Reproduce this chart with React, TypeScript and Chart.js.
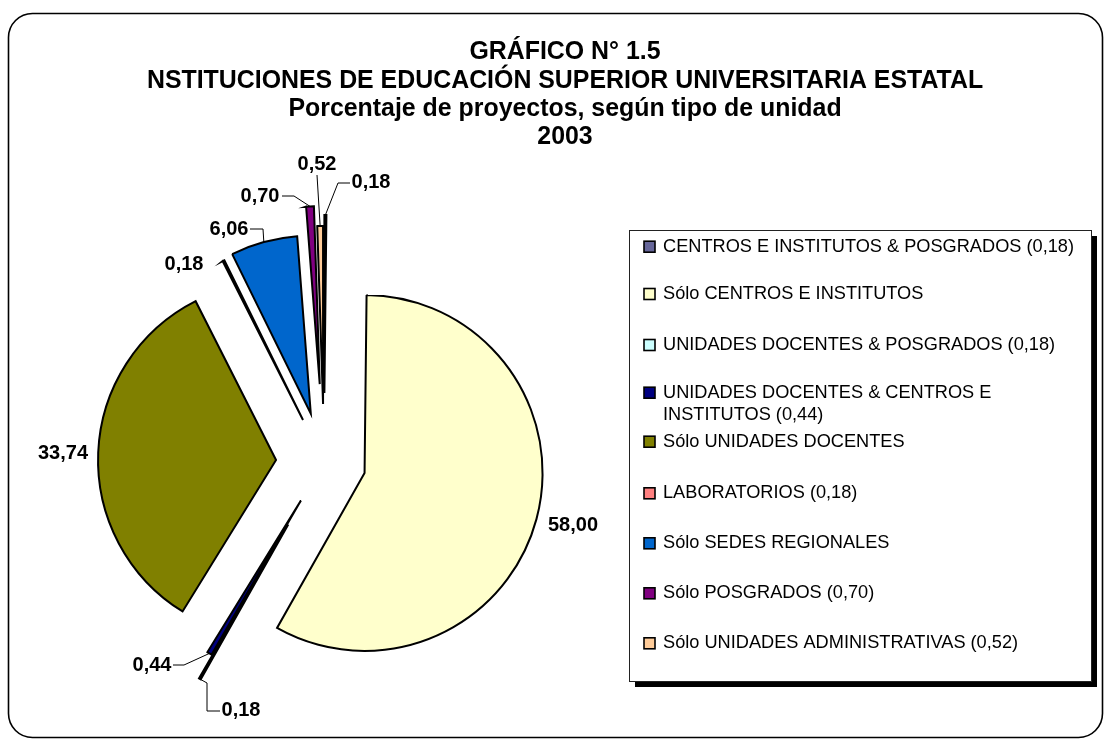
import React, { useEffect, useRef } from 'react';
import { Chart, registerables } from 'chart.js';

Chart.register(...registerables);

// ---- Data ----
const CATEGORIES = [
  'CENTROS E INSTITUTOS & POSGRADOS (0,18)',
  'Sólo CENTROS E INSTITUTOS',
  'UNIDADES DOCENTES & POSGRADOS (0,18)',
  'UNIDADES DOCENTES & CENTROS E INSTITUTOS (0,44)',
  'Sólo UNIDADES DOCENTES',
  'LABORATORIOS (0,18)',
  'Sólo SEDES REGIONALES',
  'Sólo POSGRADOS (0,70)',
  'Sólo UNIDADES ADMINISTRATIVAS (0,52)',
];
const PERCENTAGES = [0.18, 58.0, 0.18, 0.44, 33.74, 0.18, 6.06, 0.7, 0.52];
const TITLE_LINES = [
  'GRÁFICO N° 1.5',
  'NSTITUCIONES DE EDUCACIÓN SUPERIOR UNIVERSITARIA ESTATAL',
  'Porcentaje de proyectos, según tipo de unidad',
  '2003',
];

// ---- Styles ----
const COLORS = ['#666699', '#FFFFCC', '#CCFFFF', '#000080', '#808000', '#FF8080', '#0066CC', '#800080', '#FFCC99'];
const EXPLODE = [69, 42, 72, 45, 48, 47, 50, 78, 58];
const LABEL_POS: number[][] = [
  [371, 182], [573, 525], [241, 710], [152, 665], [63, 453], [184, 264], [229, 229], [260, 196], [317, 164],
];
const LEADERS: (number[][] | null)[] = [
  [[350, 183], [338, 183]],
  null,
  [[220, 711], [207, 711], [207, 683]],
  [[173, 665], [184, 665]],
  null,
  null,
  [[250, 229], [263, 229]],
  [[282, 196], [294, 196]],
  [[317, 175]],
];
const LEGEND_BOX = { x: 629, y: 230, w: 462, h: 451, shadow: 6 };
const LEGEND_ROWS = [246.7, 294, 345, 392.7, 441.7, 493.3, 543.3, 593.3, 643.3];
const FONT = '"Liberation Sans", Arial, Helvetica, sans-serif';

function fmt(v: number) {
  return v.toFixed(2).replace('.', ',');
}

function wrap(ctx: CanvasRenderingContext2D, text: string, maxW: number): string[] {
  const words = text.split(' ');
  const lines: string[] = [];
  let cur = '';
  for (const w of words) {
    const t = cur ? cur + ' ' + w : w;
    if (ctx.measureText(t).width > maxW && cur) {
      lines.push(cur);
      cur = w;
    } else cur = t;
  }
  if (cur) lines.push(cur);
  return lines;
}

const explodePlugin = {
  id: 'explodeSlices',
  afterDatasetsUpdate(chart: any) {
    const meta = chart.getDatasetMeta(0);
    meta.data.forEach((arc: any, i: number) => {
      const mid = (arc.startAngle + arc.endAngle) / 2;
      const d = EXPLODE[i] || 0;
      arc.x += d * Math.cos(mid);
      arc.y += d * Math.sin(mid);
    });
  },
};

const decorPlugin = {
  id: 'decor',
  beforeDraw(chart: any) {
    const ctx: CanvasRenderingContext2D = chart.ctx;
    ctx.save();
    ctx.fillStyle = '#fff';
    ctx.fillRect(0, 0, chart.width, chart.height);
    const x = 8.5, y = 13.5, w = 1094, h = 724, r = 24;
    ctx.beginPath();
    ctx.moveTo(x + r, y);
    ctx.lineTo(x + w - r, y);
    ctx.arcTo(x + w, y, x + w, y + r, r);
    ctx.lineTo(x + w, y + h - r);
    ctx.arcTo(x + w, y + h, x + w - r, y + h, r);
    ctx.lineTo(x + r, y + h);
    ctx.arcTo(x, y + h, x, y + h - r, r);
    ctx.lineTo(x, y + r);
    ctx.arcTo(x, y, x + r, y, r);
    ctx.closePath();
    ctx.strokeStyle = '#000';
    ctx.lineWidth = 1.6;
    ctx.stroke();
    ctx.restore();
  },
  afterDraw(chart: any) {
    const ctx: CanvasRenderingContext2D = chart.ctx;
    ctx.save();
    ctx.fillStyle = '#000';
    ctx.textAlign = 'center';
    ctx.textBaseline = 'middle';
    ctx.font = `bold 24.9px ${FONT}`;
    const titleY = [52, 81, 109.5, 137.5];
    TITLE_LINES.forEach((t, i) => ctx.fillText(t, 565, titleY[i]));

    const meta = chart.getDatasetMeta(0);
    const vals = chart.data.datasets[0].data as number[];
    ctx.font = `bold 20px ${FONT}`;
    meta.data.forEach((arc: any, i: number) => {
      const mid = (arc.startAngle + arc.endAngle) / 2;
      const px = arc.x + arc.outerRadius * Math.cos(mid);
      const py = arc.y + arc.outerRadius * Math.sin(mid);
      const lead = LEADERS[i];
      if (lead) {
        ctx.beginPath();
        ctx.moveTo(lead[0][0], lead[0][1]);
        for (let k = 1; k < lead.length; k++) ctx.lineTo(lead[k][0], lead[k][1]);
        ctx.lineTo(px, py);
        ctx.strokeStyle = '#000';
        ctx.lineWidth = 1;
        ctx.stroke();
      }
      const [lx, ly] = LABEL_POS[i];
      ctx.fillStyle = '#000';
      ctx.fillText(fmt(vals[i]), lx, ly);
    });

    const b = LEGEND_BOX;
    ctx.fillStyle = '#000';
    ctx.fillRect(b.x + b.shadow, b.y + b.shadow, b.w, b.h);
    ctx.fillStyle = '#fff';
    ctx.fillRect(b.x, b.y, b.w, b.h);
    ctx.strokeStyle = '#222';
    ctx.lineWidth = 1;
    ctx.strokeRect(b.x + 0.5, b.y + 0.5, b.w, b.h);
    ctx.font = `18.2px ${FONT}`;
    ctx.textAlign = 'left';
    const labels = chart.data.labels as string[];
    const colors = chart.data.datasets[0].backgroundColor as string[];
    labels.forEach((lab, i) => {
      const yc = LEGEND_ROWS[i];
      ctx.fillStyle = colors[i];
      ctx.fillRect(644, yc - 5.5, 11, 11);
      ctx.strokeStyle = '#000';
      ctx.lineWidth = 1.6;
      ctx.strokeRect(644, yc - 5.5, 11, 11);
      ctx.fillStyle = '#000';
      const lines = wrap(ctx, lab, 420);
      lines.forEach((ln, k) => ctx.fillText(ln, 663, yc + k * 22.3));
    });
    ctx.restore();
  },
};

export default function App() {
  const ref = useRef<HTMLCanvasElement | null>(null);
  useEffect(() => {
    if (!ref.current) return;
    const chart = new Chart(ref.current, {
      type: 'pie',
      data: {
        labels: CATEGORIES,
        datasets: [
          {
            data: PERCENTAGES,
            backgroundColor: COLORS,
            borderColor: '#000',
            borderWidth: 2,
            borderJoinStyle: 'miter',
          } as any,
        ],
      },
      options: {
        responsive: false,
        maintainAspectRatio: false,
        devicePixelRatio: 1,
        animation: false,
        events: [],
        radius: 178,
        layout: { padding: { left: 100, right: 556, top: 238, bottom: 54 } },
        plugins: {
          legend: { display: false },
          title: { display: false },
          tooltip: { enabled: false },
        },
      } as any,
      plugins: [explodePlugin, decorPlugin],
    });
    return () => chart.destroy();
  }, []);
  return (
    <div style={{ position: 'fixed', left: 0, top: 0, width: 1104, height: 740, background: '#fff' }}>
      <canvas ref={ref} width={1104} height={740} style={{ display: 'block' }} />
    </div>
  );
}
